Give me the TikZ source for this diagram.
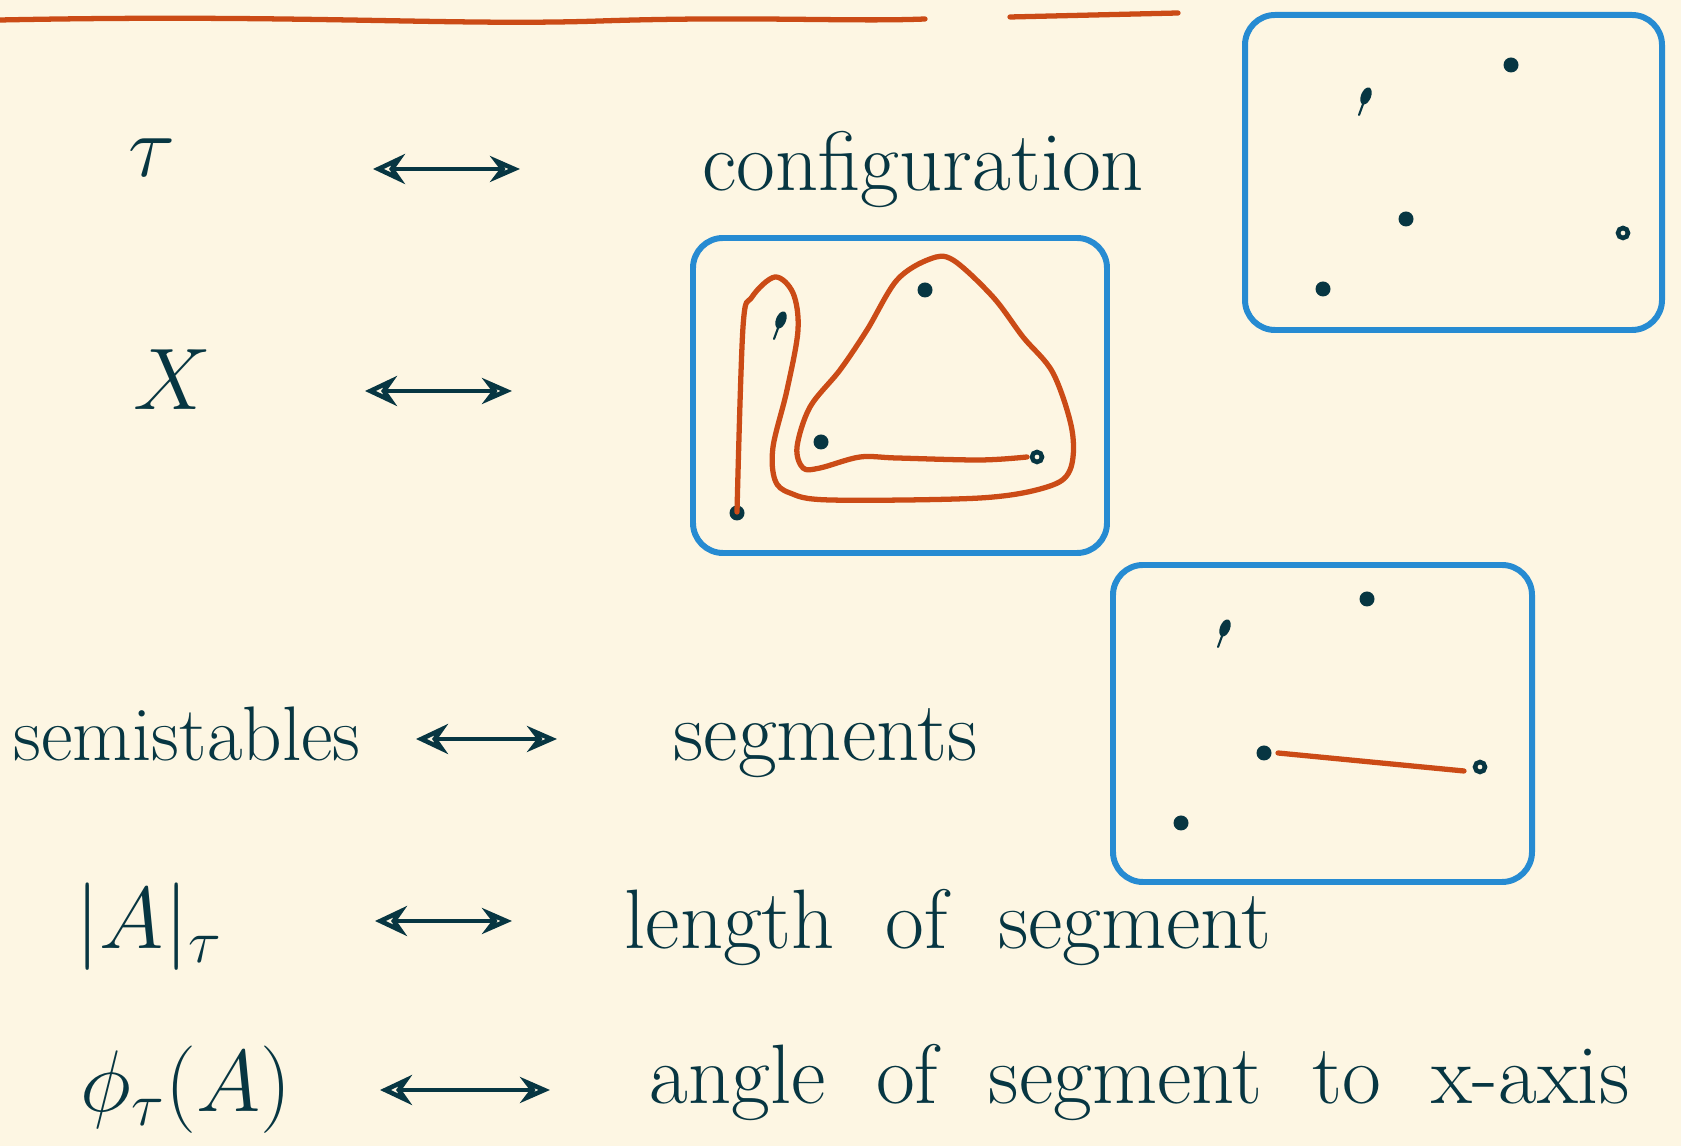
\documentclass[tikz,border=0pt]{standalone}
\usepackage{amsmath,amssymb}
\usepackage{tikz}
\usetikzlibrary{arrows.meta,calc}

\definecolor{paper}{HTML}{FDF6E3}
\definecolor{ink}{HTML}{073642}
\definecolor{rust}{HTML}{CB4B16}
\definecolor{sky}{HTML}{268BD2}

\newcommand{\handfont}{\fontsize{24}{28}\selectfont\spaceskip 0.6em\relax}

\tikzset{
  lbl/.style={text=ink, inner sep=0pt, anchor=base west, font=\handfont},
  corr/.style={ink, line width=1.3pt,
    {Stealth[open,length=3.2mm,width=3mm]}-{Stealth[open,length=3mm,width=2.6mm]}},
  frame/.style={sky, line width=1.7pt, rounded corners=3mm},
  pt/.style={circle, fill=ink, inner sep=0pt, minimum size=1.5mm},
  ring/.style={circle, draw=ink, line width=1.3pt, inner sep=0pt, minimum size=1mm},
  seg/.style={rust, line width=1.5pt, line cap=round}
}

\begin{document}
\begin{tikzpicture}[x=0.1mm, y=-0.1mm, line cap=round]
  \fill[paper] (0,0) rectangle (1681,1146);
  \useasboundingbox (0,0) rectangle (1681,1146);

  % orange underline at the top edge
  \draw[seg] (0,20) .. controls (300,14) and (450,26) .. (600,21) .. controls (750,16) and (850,22) .. (925,19);
  \draw[seg] (1010,17) -- (1178,13);

  % left column
  \node[lbl] (tau) at (128,177) {$\tau$};
  \node[lbl] (X) at (133,410) {$X$};
  \node[lbl, font=\fontsize{22}{26}\selectfont] (semi) at (13,761) {semistables};
  \node[lbl] (absA) at (75,949) {$|A|_\tau$};
  \node[lbl] (phiA) at (80,1112) {$\phi_\tau(A)$};

  % right column
  \node[lbl] (conf) at (702,191) {configuration};
  \node[lbl] (segs) at (673,761) {segments};
  \node[lbl] (len) at (624,949) {length of segment};
  \node[lbl] (ang) at (649,1104) {angle of segment to x-axis};

  % double arrows
  \foreach \r/\xa/\xb/\y in {1/373/520/169, 2/365/512/391, 3/416/557/739,
                             4/375/512/921, 5/380/550/1090} {
    \coordinate (l\r) at (\xa,\y);
    \coordinate (r\r) at (\xb,\y);
    \draw[corr] (l\r) -- (r\r);
  }

  % boxes
  \draw[frame] (1245,15) rectangle (1662,330);
  \draw[frame] (693,238) rectangle (1107,553);
  \draw[frame] (1113,565) rectangle (1532,882);

  % configuration: five points
  \node[pt] (c1) at (1511,65) {};
  \node[pt] (c2) at (1406,219) {};
  \node[ring] (c3) at (1623,233) {};
  \node[pt] (c4) at (1323,289) {};
  \coordinate (c5) at (1366,96);

  % the same points with a path through them
  \node[pt] (x1) at (925,290) {};
  \node[pt] (x2) at (821,442) {};
  \node[ring] (x3) at (1037,457) {};
  \node[pt] (x4) at (737,513) {};
  \coordinate (x5) at (781,320);
  \draw[seg] plot[smooth, tension=0.55] coordinates {
    (737,512) (743,327) (752,297) (775,277) (793,293) (798,330) (787,390)
    (773,447) (775,480) (790,493) (830,500) (980,498) (1047,487) (1070,470)
    (1072,430) (1053,373) (1023,337) (993,297) (953,260) (930,259) (897,280)
    (867,330) (840,370) (810,407) (797,447) (803,468) (820,468) (860,457)
    (897,458) (980,460) (1027,457)};

  % segments: one segment between two points
  \node[pt] (s1) at (1367,599) {};
  \node[pt] (s2) at (1264,753) {};
  \node[ring] (s3) at (1480,767) {};
  \node[pt] (s4) at (1181,823) {};
  \coordinate (s5) at (1225,628);
  \draw[seg] ($(s2)+(14,0)$) -- ($(s3)+(-16,4)$);

  % tadpole shaped points
  \foreach \p in {c5, x5, s5} {
    \fill[ink, rotate around={-22:(\p)}] (\p) ellipse (5 and 9);
    \draw[ink, line width=0.6pt] (\p) -- ++(-7,19);
  }
\end{tikzpicture}
\end{document}
